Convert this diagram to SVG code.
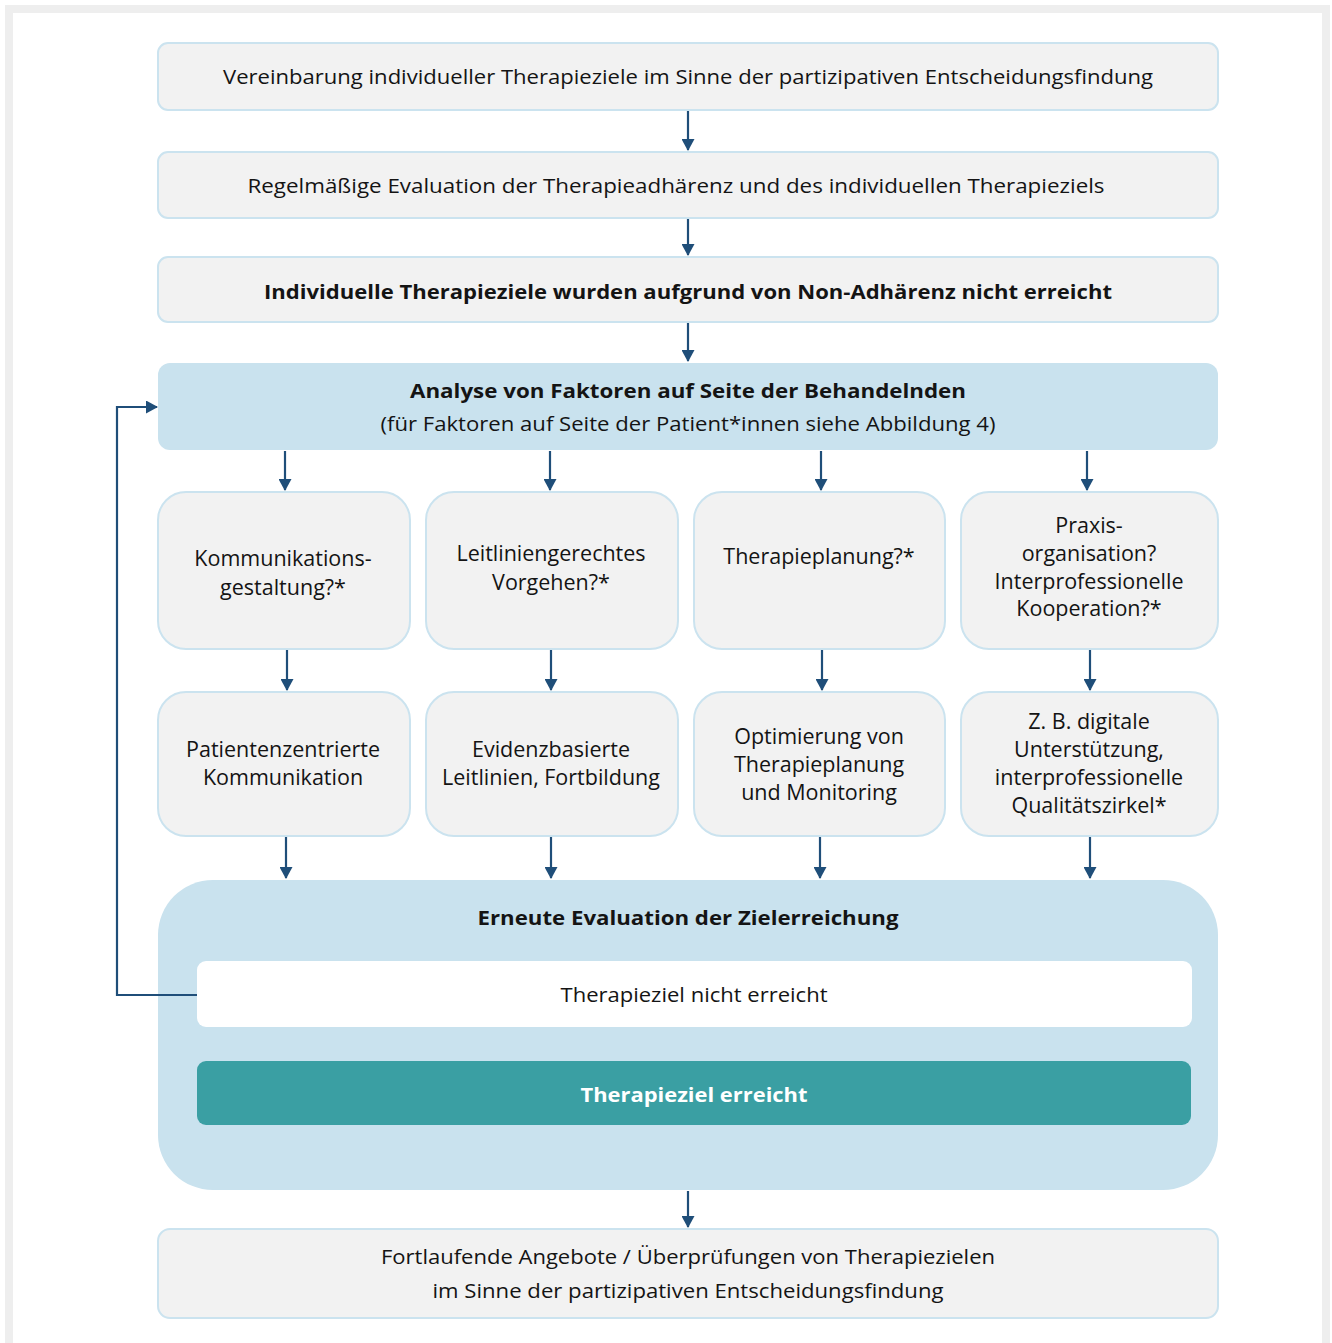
<svg xmlns="http://www.w3.org/2000/svg" width="1332" height="1343" viewBox="0 0 1332 1343">
<defs>
<marker id="ah" markerWidth="13" markerHeight="13" refX="11" refY="6.5" orient="auto" markerUnits="userSpaceOnUse">
<path d="M0,0 L12,6.5 L0,13 Z" fill="#1f4e79"/>
</marker>
<style>
.box{fill:#f2f2f2;stroke:#cbe3ef;stroke-width:2}
.blue{fill:#c9e2ee}
.t{font-family:"Open Sans","Liberation Sans",sans-serif;font-size:20px;fill:#141414;text-anchor:middle}
.s{font-size:21.5px}
.b{font-weight:bold}
.w{fill:#ffffff}
.c{stroke:#1f4e79;stroke-width:2.2;fill:none;marker-end:url(#ah)}
</style>
</defs>
<rect x="0" y="0" width="1332" height="1343" fill="#ffffff"/>
<rect x="9" y="9" width="1317" height="1340" fill="#ffffff" stroke="#eeeeee" stroke-width="8"/>

<g id="n1">
<rect class="box" x="158" y="43" width="1060" height="67" rx="10"/>
<text class="t" x="688" y="84" textLength="930" lengthAdjust="spacingAndGlyphs">Vereinbarung individueller Therapieziele im Sinne der partizipativen Entscheidungsfindung</text>
</g>
<g id="n2">
<rect class="box" x="158" y="152" width="1060" height="66" rx="10"/>
<text class="t" x="676" y="193" textLength="857" lengthAdjust="spacingAndGlyphs">Regelmäßige Evaluation der Therapieadhärenz und des individuellen Therapieziels</text>
</g>
<g id="n3">
<rect class="box" x="158" y="257" width="1060" height="65" rx="10"/>
<text class="t b" x="688" y="299" textLength="848" lengthAdjust="spacingAndGlyphs">Individuelle Therapieziele wurden aufgrund von Non-Adhärenz nicht erreicht</text>
</g>
<g id="n4">
<rect class="blue" x="158" y="363" width="1060" height="87" rx="12"/>
<text class="t b" x="688" y="398" textLength="556" lengthAdjust="spacingAndGlyphs">Analyse von Faktoren auf Seite der Behandelnden</text>
<text class="t" x="688" y="431" textLength="615" lengthAdjust="spacingAndGlyphs">(für Faktoren auf Seite der Patient*innen siehe Abbildung 4)</text>
</g>

<g id="f1">
<rect class="box" x="158" y="492" width="252" height="157" rx="28"/>
<text class="t s" x="283" y="566">Kommunikations-</text>
<text class="t s" x="283" y="595">gestaltung?*</text>
</g>
<g id="f2">
<rect class="box" x="426" y="492" width="252" height="157" rx="28"/>
<text class="t s" x="551" y="561">Leitliniengerechtes</text>
<text class="t s" x="551" y="590">Vorgehen?*</text>
</g>
<g id="f3">
<rect class="box" x="694" y="492" width="251" height="157" rx="28"/>
<text class="t s" x="819" y="564">Therapieplanung?*</text>
</g>
<g id="f4">
<rect class="box" x="961" y="492" width="257" height="157" rx="28"/>
<text class="t s" x="1089" y="533">Praxis-</text>
<text class="t s" x="1089" y="561">organisation?</text>
<text class="t s" x="1089" y="589">Interprofessionelle</text>
<text class="t s" x="1089" y="616">Kooperation?*</text>
</g>

<g id="m1">
<rect class="box" x="158" y="692" width="252" height="144" rx="28"/>
<text class="t s" x="283" y="757">Patientenzentrierte</text>
<text class="t s" x="283" y="785">Kommunikation</text>
</g>
<g id="m2">
<rect class="box" x="426" y="692" width="252" height="144" rx="28"/>
<text class="t s" x="551" y="757">Evidenzbasierte</text>
<text class="t s" x="551" y="785">Leitlinien, Fortbildung</text>
</g>
<g id="m3">
<rect class="box" x="694" y="692" width="251" height="144" rx="28"/>
<text class="t s" x="819" y="744">Optimierung von</text>
<text class="t s" x="819" y="772">Therapieplanung</text>
<text class="t s" x="819" y="800">und Monitoring</text>
</g>
<g id="m4">
<rect class="box" x="961" y="692" width="257" height="144" rx="28"/>
<text class="t s" x="1089" y="729">Z. B. digitale</text>
<text class="t s" x="1089" y="757">Unterstützung,</text>
<text class="t s" x="1089" y="785">interprofessionelle</text>
<text class="t s" x="1089" y="813">Qualitätszirkel*</text>
</g>

<g id="eval">
<rect class="blue" x="158" y="880" width="1060" height="310" rx="55"/>
<text class="t b" x="688" y="925" textLength="421" lengthAdjust="spacingAndGlyphs">Erneute Evaluation der Zielerreichung</text>
</g>
<g id="notreached">
<rect x="197" y="961" width="995" height="66" rx="9" fill="#ffffff"/>
<text class="t" x="694" y="1002" textLength="267" lengthAdjust="spacingAndGlyphs">Therapieziel nicht erreicht</text>
</g>
<g id="reached">
<rect x="197" y="1061" width="994" height="64" rx="9" fill="#3a9fa3"/>
<text class="t b w" x="694" y="1102" textLength="227" lengthAdjust="spacingAndGlyphs">Therapieziel erreicht</text>
</g>
<g id="n5">
<rect class="box" x="158" y="1229" width="1060" height="89" rx="12"/>
<text class="t" x="688" y="1264" textLength="614" lengthAdjust="spacingAndGlyphs">Fortlaufende Angebote / Überprüfungen von Therapiezielen</text>
<text class="t" x="688" y="1298" textLength="511" lengthAdjust="spacingAndGlyphs">im Sinne der partizipativen Entscheidungsfindung</text>
</g>

<g id="connectors">
<line class="c" x1="688" y1="111" x2="688" y2="150"/>
<line class="c" x1="688" y1="219" x2="688" y2="255"/>
<line class="c" x1="688" y1="323" x2="688" y2="361"/>
<line class="c" x1="285" y1="451" x2="285" y2="490"/>
<line class="c" x1="550" y1="451" x2="550" y2="490"/>
<line class="c" x1="821" y1="451" x2="821" y2="490"/>
<line class="c" x1="1087" y1="451" x2="1087" y2="490"/>
<line class="c" x1="287" y1="650" x2="287" y2="690"/>
<line class="c" x1="551" y1="650" x2="551" y2="690"/>
<line class="c" x1="822" y1="650" x2="822" y2="690"/>
<line class="c" x1="1090" y1="650" x2="1090" y2="690"/>
<line class="c" x1="286" y1="837" x2="286" y2="878"/>
<line class="c" x1="551" y1="837" x2="551" y2="878"/>
<line class="c" x1="820" y1="837" x2="820" y2="878"/>
<line class="c" x1="1090" y1="837" x2="1090" y2="878"/>
<line class="c" x1="688" y1="1191" x2="688" y2="1227"/>
<polyline class="c" points="197,995 117,995 117,407 157,407"/>
</g>
</svg>
